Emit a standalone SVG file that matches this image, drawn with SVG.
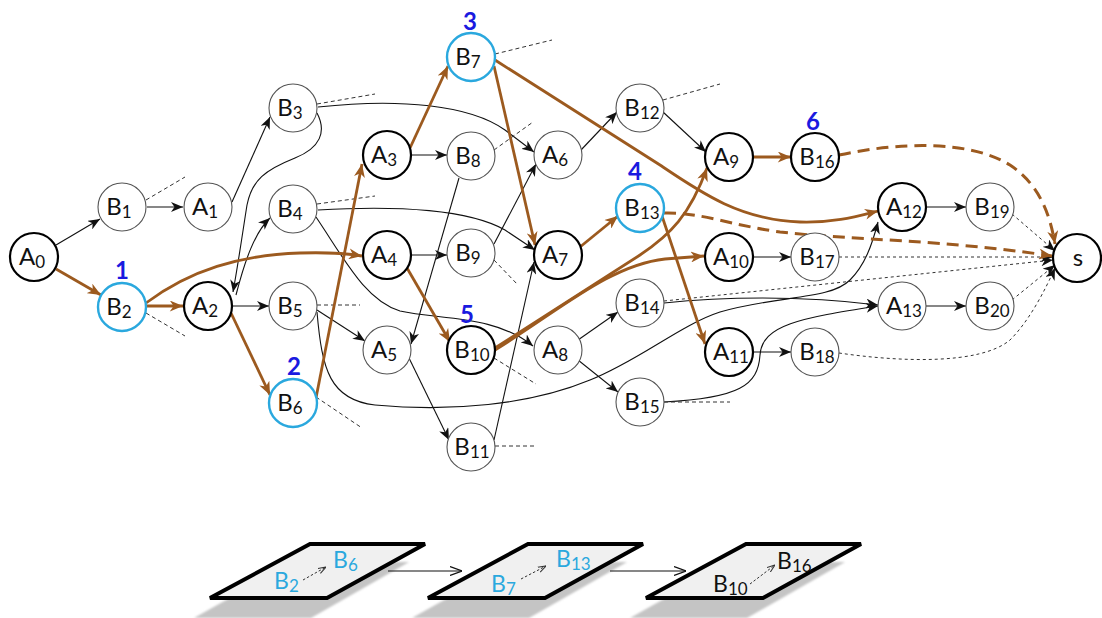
<svg xmlns="http://www.w3.org/2000/svg" width="1102" height="618" viewBox="0 0 1102 618">
<style>
.c-thin{fill:#fff;stroke:#555;stroke-width:1.1}
.c-bold{fill:#fff;stroke:#000;stroke-width:2.2}
.c-blue{fill:#fff;stroke:#2AA8DE;stroke-width:2.4}
.lbl{font-family:Lato,"Open Sans","Liberation Sans",sans-serif;font-size:24px;fill:#111;text-anchor:middle}
.sub{font-size:17px}
.num{font-family:Lato,"Open Sans","Liberation Sans",sans-serif;font-size:24px;font-weight:bold;fill:#1A1AE0;text-anchor:middle}
.e{fill:none;stroke:#111;stroke-width:1.1;marker-end:url(#ah)}
.stub{fill:none;stroke:#333;stroke-width:1;stroke-dasharray:4,3}
.dot{fill:none;stroke:#333;stroke-width:1;stroke-dasharray:3,3;marker-end:url(#ah)}
.br{fill:none;stroke:#9C5A1F;stroke-width:2.8;marker-end:url(#ahb)}
.brd{fill:none;stroke:#9C5A1F;stroke-width:3;stroke-dasharray:12,7;marker-end:url(#ahb)}
.plane{fill:#f0f0f0;stroke:#000;stroke-width:4;stroke-linejoin:miter}
.shadow{fill:#c4c4c4}
.pt{font-family:Lato,"Open Sans","Liberation Sans",sans-serif;font-size:23px}
.pts{font-size:17px}
.cy{fill:#2AA8DE}
.bk{fill:#111}
.flow{fill:none;stroke:#111;stroke-width:1.2;marker-end:url(#open)}
.mini{fill:none;stroke:#333;stroke-width:1;stroke-dasharray:2.5,2;marker-end:url(#openS)}
</style>
<defs>
<marker id="ah" viewBox="0 0 12 10" refX="12" refY="5" markerWidth="12" markerHeight="10" markerUnits="userSpaceOnUse" orient="auto">
<path d="M0,0 L12,5 L0,10 L3.5,5 z" fill="#111"/>
</marker>
<marker id="ahb" viewBox="0 0 12 10" refX="12" refY="5" markerWidth="14" markerHeight="11" markerUnits="userSpaceOnUse" orient="auto">
<path d="M0,0 L12,5 L0,10 L3.5,5 z" fill="#9C5A1F"/>
</marker>
<marker id="open" viewBox="0 0 12 10" refX="12" refY="5" markerWidth="12" markerHeight="10" markerUnits="userSpaceOnUse" orient="auto">
<path d="M0,0.5 L12,5 L0,9.5" fill="none" stroke="#111" stroke-width="1.2"/>
</marker>
<marker id="openS" viewBox="0 0 10 8" refX="10" refY="4" markerWidth="8" markerHeight="7" markerUnits="userSpaceOnUse" orient="auto">
<path d="M0,0.5 L10,4 L0,7.5" fill="none" stroke="#333" stroke-width="1.3"/>
</marker>
<filter id="blur" x="-10%" y="-10%" width="120%" height="130%"><feGaussianBlur stdDeviation="1.2"/></filter>
</defs>

<g id="connectors">
<path class="e" d="M56,245 L100,219"/>
<path class="e" d="M147,207 L183,207"/>
<path class="e" d="M232,202 L270,117"/>
<path class="e" d="M236,295 C245,260 255,232 270,218"/>
<path class="e" d="M233,306 L269,306"/>
<path class="e" d="M317,113 C327,132 320,148 295,158 C265,170 252,180 247,205 C243,230 238,265 233,292"/>
<path class="e" d="M318,107 C400,98 470,105 505,130 L534,152"/>
<path class="e" d="M318,210 C400,205 470,210 505,230 L535,250"/>
<path class="e" d="M316,217 C345,260 365,300 400,311 C440,320 495,315 533,346"/>
<path class="e" d="M317,310 L365,341"/>
<path class="e" d="M317,312 C322,370 330,400 375,405 C450,412 530,405 590,380 C640,360 680,325 720,312 C780,295 830,300 850,280 C865,265 872,245 878,222"/>
<path class="e" d="M412,155 L447,155"/>
<path class="e" d="M412,255 L447,255"/>
<path class="e" d="M459,178 L411,344"/>
<path class="e" d="M494,244 L536,164"/>
<path class="e" d="M409,358 L449,440"/>
<path class="e" d="M494,440 L534,262"/>
<path class="e" d="M581,150 L617,112"/>
<path class="e" d="M663,112 L706,152"/>
<path class="e" d="M578,340 L618,312"/>
<path class="e" d="M578,360 L618,392"/>
<path class="e" d="M664,303 C720,297 800,295 878,305"/>
<path class="e" d="M664,402 C740,398 758,385 760,355 C762,325 800,318 878,306"/>
<path class="e" d="M753,257 L791,257"/>
<path class="e" d="M753,352 L791,352"/>
<path class="e" d="M926,207 L966,207"/>
<path class="e" d="M926,306 L966,306"/>
<path class="dot" d="M839,257 L1053,257"/>
<path class="dot" d="M664,301 L1053,260"/>
<path class="dot" d="M1012,214 L1055,251"/>
<path class="dot" d="M1012,300 L1055,265"/>
<path class="dot" d="M839,353 C900,362 980,365 1010,340 C1030,320 1045,290 1055,268"/>
<path class="stub" d="M146,200 L185,177"/>
<path class="stub" d="M146,313 L185,336"/>
<path class="stub" d="M317,104 L375,94"/>
<path class="stub" d="M317,204 L375,196"/>
<path class="stub" d="M317,305 L360,305"/>
<path class="stub" d="M316,397 L362,428"/>
<path class="stub" d="M495,54 L552,40"/>
<path class="stub" d="M494,150 L533,122"/>
<path class="stub" d="M494,260 L518,285"/>
<path class="stub" d="M494,358 L536,384"/>
<path class="stub" d="M495,446 L535,446"/>
<path class="stub" d="M663,100 L720,84"/>
<path class="stub" d="M664,402 L730,402"/>
<path class="br" d="M56,269 L101,295"/>
<path class="br" d="M146,306 L183,306"/>
<path class="br" d="M146,303 C190,270 240,255 300,253 C330,252 350,254 362,256"/>
<path class="br" d="M231,313 L270,395"/>
<path class="br" d="M316,398 L362,164"/>
<path class="br" d="M410,148 L448,66"/>
<path class="br" d="M494,66 L535,245"/>
<path class="br" d="M495,60 L660,165 C700,192 740,220 800,222 C835,223 858,216 878,211"/>
<path class="br" d="M407,268 L450,342"/>
<path class="br" d="M580,247 L618,216"/>
<path class="br" d="M662,216 L705,344"/>
<path class="br" d="M495,348 L640,255 C670,235 690,215 707,168"/>
<path class="br" d="M495,350 C560,310 610,265 665,259 L704,256"/>
<path class="br" d="M753,157 L791,157"/>
<path class="brd" d="M664,213 C700,212 730,225 780,232 C850,240 950,240 1052,256"/>
<path class="brd" d="M839,155 C900,142 970,140 1010,165 C1040,185 1050,215 1055,244"/>
</g>

<g id="A0"><circle class="c-bold" cx="34" cy="257" r="24"/><text class="lbl" x="32" y="265">A<tspan class="sub" dy="3">0</tspan></text></g>
<g id="B1"><circle class="c-thin" cx="122" cy="207" r="24"/><text class="lbl" x="119" y="215">B<tspan class="sub" dy="3">1</tspan></text></g>
<g id="B2"><circle class="c-blue" cx="122" cy="307" r="24"/><text class="lbl" x="119" y="315">B<tspan class="sub" dy="3">2</tspan></text><text class="num" x="122" y="279">1</text></g>
<g id="A1"><circle class="c-thin" cx="208" cy="207" r="24"/><text class="lbl" x="205" y="215">A<tspan class="sub" dy="3">1</tspan></text></g>
<g id="A2"><circle class="c-bold" cx="208" cy="306" r="24"/><text class="lbl" x="205" y="314">A<tspan class="sub" dy="3">2</tspan></text></g>
<g id="B3"><circle class="c-thin" cx="293" cy="108" r="24"/><text class="lbl" x="290" y="116">B<tspan class="sub" dy="3">3</tspan></text></g>
<g id="B4"><circle class="c-thin" cx="293" cy="209" r="24"/><text class="lbl" x="290" y="217">B<tspan class="sub" dy="3">4</tspan></text></g>
<g id="B5"><circle class="c-thin" cx="293" cy="306" r="24"/><text class="lbl" x="290" y="314">B<tspan class="sub" dy="3">5</tspan></text></g>
<g id="B6"><circle class="c-blue" cx="293" cy="403" r="24"/><text class="lbl" x="290" y="411">B<tspan class="sub" dy="3">6</tspan></text><text class="num" x="294" y="375">2</text></g>
<g id="A3"><circle class="c-bold" cx="387" cy="155" r="24"/><text class="lbl" x="384" y="163">A<tspan class="sub" dy="3">3</tspan></text></g>
<g id="A4"><circle class="c-bold" cx="387" cy="255" r="24"/><text class="lbl" x="384" y="263">A<tspan class="sub" dy="3">4</tspan></text></g>
<g id="A5"><circle class="c-thin" cx="387" cy="350" r="24"/><text class="lbl" x="384" y="358">A<tspan class="sub" dy="3">5</tspan></text></g>
<g id="B7"><circle class="c-blue" cx="471" cy="57" r="24"/><text class="lbl" x="468" y="65">B<tspan class="sub" dy="3">7</tspan></text><text class="num" x="470" y="30">3</text></g>
<g id="B8"><circle class="c-thin" cx="471" cy="156" r="24"/><text class="lbl" x="468" y="164">B<tspan class="sub" dy="3">8</tspan></text></g>
<g id="B9"><circle class="c-thin" cx="471" cy="253" r="24"/><text class="lbl" x="468" y="261">B<tspan class="sub" dy="3">9</tspan></text></g>
<g id="B10"><circle class="c-bold" cx="471" cy="350" r="24"/><text class="lbl" x="472" y="358">B<tspan class="sub" dy="3">10</tspan></text><text class="num" x="467" y="323">5</text></g>
<g id="B11"><circle class="c-thin" cx="471" cy="447" r="24"/><text class="lbl" x="472" y="455">B<tspan class="sub" dy="3">11</tspan></text></g>
<g id="A6"><circle class="c-thin" cx="558" cy="155" r="24"/><text class="lbl" x="555" y="163">A<tspan class="sub" dy="3">6</tspan></text></g>
<g id="A7"><circle class="c-bold" cx="558" cy="255" r="24"/><text class="lbl" x="555" y="263">A<tspan class="sub" dy="3">7</tspan></text></g>
<g id="A8"><circle class="c-thin" cx="558" cy="350" r="24"/><text class="lbl" x="555" y="358">A<tspan class="sub" dy="3">8</tspan></text></g>
<g id="B12"><circle class="c-thin" cx="640" cy="108" r="24"/><text class="lbl" x="642" y="116">B<tspan class="sub" dy="3">12</tspan></text></g>
<g id="B13"><circle class="c-blue" cx="640" cy="208" r="24"/><text class="lbl" x="642" y="216">B<tspan class="sub" dy="3">13</tspan></text><text class="num" x="635" y="180">4</text></g>
<g id="B14"><circle class="c-thin" cx="640" cy="303" r="24"/><text class="lbl" x="642" y="311">B<tspan class="sub" dy="3">14</tspan></text></g>
<g id="B15"><circle class="c-thin" cx="640" cy="402" r="24"/><text class="lbl" x="642" y="410">B<tspan class="sub" dy="3">15</tspan></text></g>
<g id="A9"><circle class="c-bold" cx="729" cy="157" r="24"/><text class="lbl" x="726" y="165">A<tspan class="sub" dy="3">9</tspan></text></g>
<g id="A10"><circle class="c-bold" cx="729" cy="257" r="24"/><text class="lbl" x="731" y="265">A<tspan class="sub" dy="3">10</tspan></text></g>
<g id="A11"><circle class="c-bold" cx="729" cy="352" r="24"/><text class="lbl" x="731" y="360">A<tspan class="sub" dy="3">11</tspan></text></g>
<g id="B16"><circle class="c-bold" cx="815" cy="157" r="24"/><text class="lbl" x="817" y="165">B<tspan class="sub" dy="3">16</tspan></text><text class="num" x="813" y="130">6</text></g>
<g id="B17"><circle class="c-thin" cx="815" cy="257" r="24"/><text class="lbl" x="817" y="265">B<tspan class="sub" dy="3">17</tspan></text></g>
<g id="B18"><circle class="c-thin" cx="815" cy="352" r="24"/><text class="lbl" x="817" y="360">B<tspan class="sub" dy="3">18</tspan></text></g>
<g id="A12"><circle class="c-bold" cx="902" cy="207" r="24"/><text class="lbl" x="904" y="215">A<tspan class="sub" dy="3">12</tspan></text></g>
<g id="A13"><circle class="c-thin" cx="902" cy="306" r="24"/><text class="lbl" x="904" y="314">A<tspan class="sub" dy="3">13</tspan></text></g>
<g id="B19"><circle class="c-thin" cx="990" cy="207" r="24"/><text class="lbl" x="992" y="215">B<tspan class="sub" dy="3">19</tspan></text></g>
<g id="B20"><circle class="c-thin" cx="990" cy="306" r="24"/><text class="lbl" x="992" y="314">B<tspan class="sub" dy="3">20</tspan></text></g>
<g id="s"><circle class="c-bold" cx="1077" cy="258" r="24"/><text class="lbl" x="1078" y="266">s</text></g>

<g id="plane1">
<polygon class="shadow" filter="url(#blur)" points="294,562 409,562 311,618 194,618"/>
<polygon class="plane" points="310,544 425,544 327,598 210,598"/>
<text class="pt cy" x="274" y="589">B<tspan class="pts" dy="3">2</tspan></text>
<path class="mini" d="M303,580 L326,567"/>
<text class="pt cy" x="333" y="568">B<tspan class="pts" dy="3">6</tspan></text>
</g>
<g id="plane2">
<polygon class="shadow" filter="url(#blur)" points="512,562 627,562 529,618 412,618"/>
<polygon class="plane" points="528,544 643,544 545,598 428,598"/>
<text class="pt cy" x="491" y="592">B<tspan class="pts" dy="3">7</tspan></text>
<path class="mini" d="M521,579 L546,566"/>
<text class="pt cy" x="556" y="567">B<tspan class="pts" dy="3">13</tspan></text>
</g>
<g id="plane3">
<polygon class="shadow" filter="url(#blur)" points="730,562 845,562 747,618 630,618"/>
<polygon class="plane" points="746,544 861,544 763,598 646,598"/>
<text class="pt bk" x="713" y="592">B<tspan class="pts" dy="3">10</tspan></text>
<path class="mini" d="M750,584 L775,565"/>
<text class="pt bk" x="777" y="569">B<tspan class="pts" dy="3">16</tspan></text>
</g>
<g id="flow">
<path class="flow" d="M388,571 L462,571"/>
<path class="flow" d="M610,571 L686,571"/>
</g>
</svg>
